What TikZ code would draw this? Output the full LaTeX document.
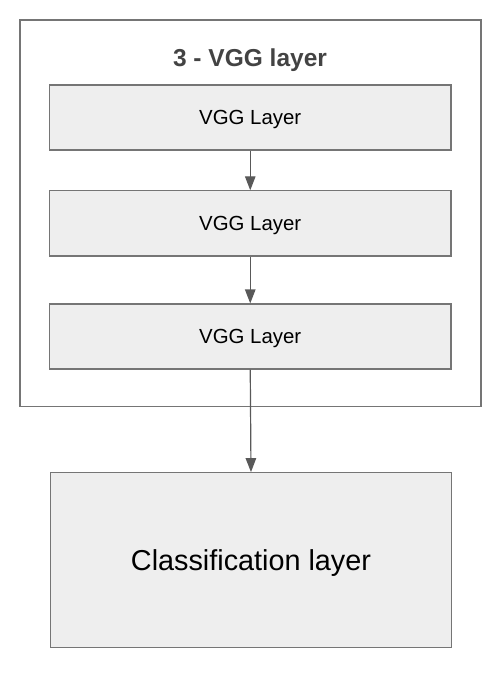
\documentclass[tikz,border=0pt]{standalone}
\usepackage{fontspec}
\setmainfont{Liberation Sans}
\usetikzlibrary{arrows.meta}
\definecolor{boxfill}{HTML}{EEEEEE}
\definecolor{boxline}{HTML}{757575}
\definecolor{arrowcol}{HTML}{595959}
\definecolor{titlecol}{HTML}{434343}
\tikzset{
  vggbox/.style={draw=boxline, fill=boxfill, line width=1.2pt, minimum width=401.5pt, minimum height=65pt, inner sep=0pt, text depth=0pt, font=\fontsize{20.4pt}{24pt}\selectfont, text=black},
  clsbox/.style={draw=boxline, fill=boxfill, line width=1.2pt, minimum width=401pt, minimum height=175pt, inner sep=0pt, text depth=0pt, font=\fontsize{28.8pt}{34pt}\selectfont, text=black},
  outerbox/.style={draw=boxline, line width=1.2pt, minimum width=461pt, minimum height=386.7pt, inner sep=0pt},
  titletext/.style={font=\bfseries\fontsize{24.5pt}{29pt}\selectfont, text=titlecol, text depth=0pt},
  flow/.style={draw=arrowcol, line width=1.2pt, -{Triangle[width=10.5pt,length=14pt]}}
}
\begin{document}
\begin{tikzpicture}[x=1pt,y=-1pt]
\useasboundingbox (0,0) rectangle (502,676);
\node[outerbox] (outer) at (250.5,213.3) {};
\node[titletext] (title) at (250,58) {3 - VGG layer};
\node[vggbox] (b1) at (250.25,117.5) {VGG Layer};
\node[vggbox] (b2) at (250.25,223.4) {VGG Layer};
\node[vggbox] (b3) at (250.25,336.5) {VGG Layer};
\node[clsbox] (cls) at (251,560.2) {Classification layer};
\draw[flow] (b1.south) -- (b2.north);
\draw[flow] (b2.south) -- (b3.north);
\draw[flow] (b3.south) -- (cls.north);
\end{tikzpicture}
\end{document}
